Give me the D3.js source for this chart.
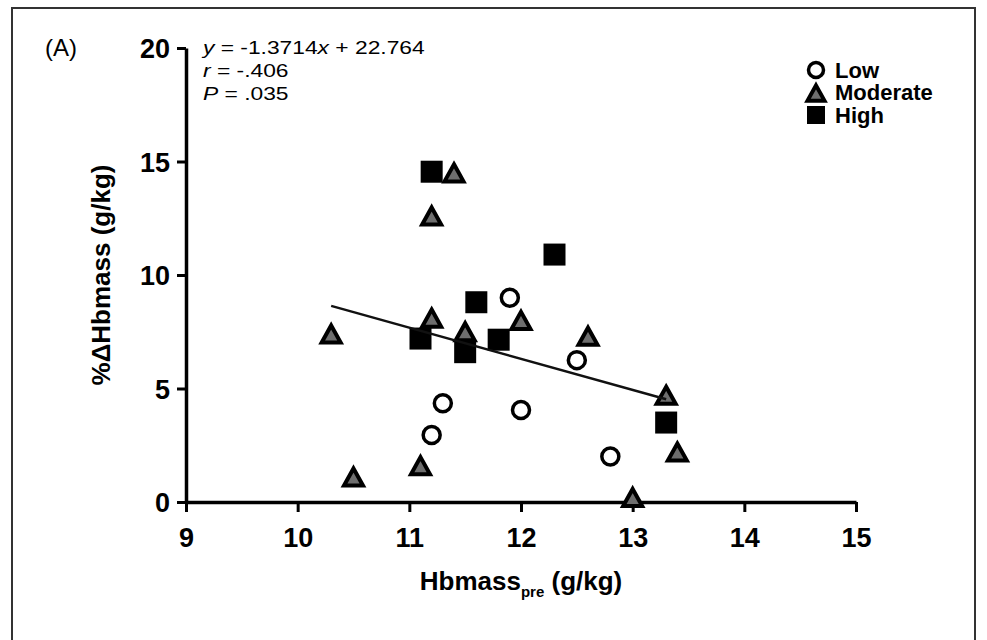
<!DOCTYPE html>
<html>
<head>
<meta charset="utf-8">
<script src="https://cdn.jsdelivr.net/npm/d3@7"></script>
<style>
  html, body { margin: 0; padding: 0; background: #fff; }
  svg { display: block; }
</style>
</head>
<body>
<div id="chart"></div>
<script>
// groups: Low (open circle), Moderate (grey triangle), High (black square)
const lowX = [11.9, 12.5, 11.3, 12.0, 11.2, 12.8];
const lowY = [9.0, 6.25, 4.35, 4.05, 2.95, 2.0];
const modX = [11.4, 11.2, 10.3, 11.2, 11.5, 12.0, 12.6, 13.3, 13.4, 11.1, 10.5, 13.0];
const modY = [14.5, 12.6, 7.4, 8.1, 7.5, 8.0, 7.3, 4.7, 2.2, 1.6, 1.1, 0.2];
const highX = [11.2, 12.3, 11.6, 11.1, 11.5, 11.8, 13.3];
const highY = [14.55, 10.9, 8.8, 7.2, 6.6, 7.15, 3.5];

const xTicks = [9, 10, 11, 12, 13, 14, 15];
const yTicks = [0, 5, 10, 15, 20];
const fitRange = [10.3, 13.3];
const slope = -1.3714, intercept = 22.764;
const legendLabels = ['Low', 'Moderate', 'High'];

const width = 987, height = 640;
const margin = {left: 186, right: 131, top: 48, bottom: 138};

const svg = d3.select('#chart').append('svg')
    .attr('width', width)
    .attr('height', height);

// outer frame
svg.append('rect')
    .attr('x', 12).attr('y', 8)
    .attr('width', 963).attr('height', 660)
    .attr('fill', 'none')
    .attr('stroke', '#333')
    .attr('stroke-width', 2);

const x = d3.scaleLinear().domain([9, 15]).range([margin.left, width - margin.right]);
const y = d3.scaleLinear().domain([0, 20]).range([height - margin.bottom, margin.top]);

const font = 'Liberation Sans, Arial, sans-serif';

// axes
const xAxis = svg.append('g')
    .attr('transform', 'translate(0,' + y(0) + ')')
    .call(d3.axisBottom(x).tickValues(xTicks).tickFormat(d3.format('d'))
        .tickSize(10).tickPadding(16).tickSizeOuter(0));
const yAxis = svg.append('g')
    .attr('transform', 'translate(' + x(9) + ',0)')
    .call(d3.axisLeft(y).tickValues(yTicks).tickFormat(d3.format('d'))
        .tickSize(9).tickPadding(7).tickSizeOuter(0));

[xAxis, yAxis].forEach(g => {
    g.select('.domain').attr('stroke', '#000').attr('stroke-width', 3.5);
    g.selectAll('.tick line').attr('stroke', '#000').attr('stroke-width', 3);
    g.selectAll('.tick text')
        .attr('fill', '#000')
        .attr('font-family', font)
        .attr('font-weight', 'bold')
        .attr('font-size', 27);
});
xAxis.selectAll('.tick text').attr('dy', '0.72em');
yAxis.selectAll('.tick text').attr('dy', '0.36em');

// panel letter
svg.append('text')
    .attr('x', 45).attr('y', 56)
    .attr('font-family', font)
    .attr('font-size', 24)
    .text('(A)');

// axis titles
svg.append('text')
    .attr('transform', 'translate(110,' + y(10) + ') rotate(-90)')
    .attr('text-anchor', 'middle')
    .attr('font-family', font)
    .attr('font-weight', 'bold')
    .attr('font-size', 26)
    .text('%ΔHbmass (g/kg)');

const xt = svg.append('text')
    .attr('x', (x(9) + x(15)) / 2)
    .attr('y', 590)
    .attr('text-anchor', 'middle')
    .attr('font-family', font)
    .attr('font-weight', 'bold')
    .attr('font-size', 26);
xt.append('tspan').text('Hbmass');
xt.append('tspan').attr('font-size', 15).attr('dy', 7).text('pre');
xt.append('tspan').attr('dy', -7).text(' (g/kg)');

// fit statistics (narrow-looking text, stretched a little sideways)
const stats = svg.append('g')
    .attr('transform', 'translate(203,0) scale(1.2,1)')
    .attr('font-family', font)
    .attr('font-size', 19);
const s0 = stats.append('text').attr('x', 0).attr('y', 54);
s0.append('tspan').attr('font-style', 'italic').text('y');
s0.append('tspan').text(' = -1.3714');
s0.append('tspan').attr('font-style', 'italic').text('x');
s0.append('tspan').text(' + 22.764');
const s1 = stats.append('text').attr('x', 0).attr('y', 77);
s1.append('tspan').attr('font-style', 'italic').text('r');
s1.append('tspan').text(' = -.406');
const s2 = stats.append('text').attr('x', 0).attr('y', 100);
s2.append('tspan').attr('font-style', 'italic').text('P');
s2.append('tspan').text(' = .035');

// marker shapes
const tri = (s) => 'M0,' + (-s * 0.45) + 'L' + (s * 0.5) + ',' + (s * 0.45) + 'L' + (-s * 0.5) + ',' + (s * 0.45) + 'Z';

function drawCircle(g, cx, cy, r) {
    g.append('circle').attr('cx', cx).attr('cy', cy).attr('r', r)
        .attr('fill', '#fff').attr('stroke', '#000').attr('stroke-width', 3.5);
}
function drawTriangle(g, cx, cy, s) {
    g.append('path').attr('d', tri(s)).attr('transform', 'translate(' + cx + ',' + cy + ')')
        .attr('fill', '#6e6e6e').attr('stroke', '#000').attr('stroke-width', 4).attr('stroke-linejoin', 'miter');
}
function drawSquare(g, cx, cy, s) {
    g.append('rect').attr('x', cx - s / 2).attr('y', cy - s / 2).attr('width', s).attr('height', s)
        .attr('fill', '#000');
}

const pts = svg.append('g');
lowX.forEach((v, i) => drawCircle(pts, x(v), y(lowY[i]), 8.5));
modX.forEach((v, i) => drawTriangle(pts, x(v), y(modY[i]), 19));
highX.forEach((v, i) => drawSquare(pts, x(v), y(highY[i]), 22));

// regression line
svg.append('line')
    .attr('x1', x(fitRange[0])).attr('y1', y(slope * fitRange[0] + intercept))
    .attr('x2', x(fitRange[1])).attr('y2', y(slope * fitRange[1] + intercept))
    .attr('stroke', '#111').attr('stroke-width', 2.5);

// legend
const leg = svg.append('g').attr('transform', 'translate(816,70)');
drawCircle(leg, 0, 0, 7.5);
drawTriangle(leg, 0, 23, 17);
drawSquare(leg, 0, 45, 18);
leg.selectAll('text').data(legendLabels).enter().append('text')
    .attr('x', 19)
    .attr('y', (d, i) => i * 22.5)
    .attr('dy', '0.36em')
    .attr('font-family', font)
    .attr('font-weight', 'bold')
    .attr('font-size', 22)
    .text(d => d);
</script>
</body>
</html>
